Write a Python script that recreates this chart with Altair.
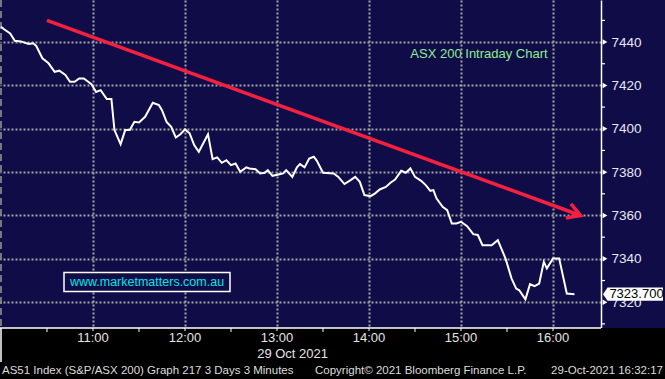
import altair as alt
import pandas as pd

# ---------------- data ----------------
times = ["10:00","10:02","10:06","10:09","10:13","10:18","10:21","10:23","10:27","10:31",
         "10:35","10:38","10:42","10:45","10:48","10:51","10:54","10:59","11:02","11:05",
         "11:09","11:12","11:14","11:18","11:21","11:24","11:27","11:30","11:34","11:39",
         "11:43","11:45","11:48","11:51","11:54","11:57","12:00","12:03","12:06","12:09",
         "12:15","12:18","12:21","12:24","12:27","12:30","12:33","12:36","12:40","12:42",
         "12:46","12:49","12:52","12:54","12:57","13:01","13:04","13:06","13:10","13:13",
         "13:15","13:18","13:21","13:24","13:26","13:30","13:37","13:40","13:44","13:48",
         "13:51","13:54","13:57","14:01","14:04","14:07","14:11","14:14","14:17","14:21",
         "14:24","14:27","14:30","14:34","14:37","14:40","14:42","14:44","14:48","14:51",
         "14:54","14:57","15:00","15:04","15:08","15:11","15:14","15:20","15:24","15:29",
         "15:33","15:36","15:38","15:42","15:45","15:48","15:51","15:54","15:56","16:00",
         "16:04","16:09","16:14"]
values = [7447.1,7445.9,7444.0,7440.6,7440.3,7439.1,7439.4,7438.2,7432.5,7430.2,
          7426.3,7426.8,7424.8,7421.7,7421.7,7423.2,7423.2,7420.6,7417.0,7417.8,
          7413.7,7413.7,7399.4,7392.9,7399.4,7399.4,7403.2,7402.9,7405.5,7412.0,
          7410.9,7408.6,7403.2,7400.9,7396.0,7397.5,7399.7,7397.9,7392.5,7389.4,
          7397.5,7386.0,7386.8,7384.3,7385.5,7383.2,7384.0,7380.2,7382.2,7381.7,
          7381.3,7379.4,7379.7,7380.9,7378.3,7378.9,7379.4,7380.9,7377.8,7382.2,
          7383.7,7382.2,7386.3,7387.1,7385.2,7379.7,7379.4,7377.8,7374.5,7376.3,
          7377.8,7375.5,7369.4,7368.9,7370.2,7372.0,7373.2,7375.1,7376.6,7380.6,
          7379.7,7381.7,7377.8,7376.0,7374.0,7371.4,7371.7,7367.9,7364.0,7362.5,
          7356.3,7356.3,7357.1,7355.1,7351.4,7351.0,7346.3,7346.3,7348.6,7340.2,
          7330.9,7326.3,7325.5,7321.3,7328.3,7327.4,7328.6,7338.6,7335.6,7340.2,
          7340.2,7324.0,7323.7]

hour_ticks = ["11:00", "12:00", "13:00", "14:00", "15:00", "16:00"]
half_hour_ticks = ["10:30", "11:30", "12:30", "13:30", "14:30", "15:30"]
session_start = ["10:00"]
y_major = [7320, 7340, 7360, 7380, 7400, 7420, 7440]
y_minor = [7310, 7330, 7350, 7370, 7390, 7410, 7430, 7450]
trend_times = ["10:30", "16:18"]
trend_values = [7450, 7360]
last_value = [7323.7]
last_label = ["7323.700"]
date_label = ["29 Oct 2021"]
chart_label = ["ASX 200 Intraday Chart"]
site_label = ["www.marketmatters.com.au"]
footer_left = ["AS51 Index (S&P/ASX 200) Graph 217 3 Days 3 Minutes"]
footer_mid = ["Copyright\u00a9 2021 Bloomberg Finance L.P."]
footer_right = ["29-Oct-2021 16:32:17"]

# ---------------- styling ----------------
NAVY = "#0f0c48"
RED = "#f5203f"
GRID = "#a4a4a4"
FONT = "Liberation Sans"
W, H = 601, 328

DAY = "2021-10-29T"
def ts(t):
    return DAY + t + ":00"

def dt(h, m=0, s=0):
    return alt.DateTime(year=2021, month=10, date=29, hours=h, minutes=m, seconds=s)

x_scale = alt.Scale(domain=[dt(9, 59, 21), dt(16, 31, 18)])
y_scale = alt.Scale(domain=[7308.1, 7459.4], nice=False, zero=False)

x_axis = alt.Axis(values=[dt(h) for h in range(11, 17)], grid=True, labels=False,
                  ticks=False, domain=False, title=None, gridDash=[2, 2],
                  gridColor=GRID, gridWidth=2)
y_axis = alt.Axis(orient="right", values=y_major, format="d", grid=True, ticks=False,
                  tickSize=0, labelPadding=10, domainColor="white", domainWidth=1.5,
                  labelColor="#e8e8f4", labelFontSize=13.5, labelFont=FONT, title=None,
                  gridDash=[2, 2], gridColor=GRID, gridWidth=2)

def X(f="t"):
    return alt.X(f + ":T", scale=x_scale, axis=x_axis)

def Y(f="v"):
    return alt.Y(f + ":Q", scale=y_scale, axis=y_axis)

one = pd.DataFrame({"a": [0]})
price_df = pd.DataFrame({"t": [ts(t) for t in times], "v": values})

# bottom black strip
strip = alt.Chart(one).mark_rect(color="black").encode(
    x=alt.value(0), x2=alt.value(665), y=alt.value(H), y2=alt.value(379))

start_df = pd.DataFrame({"t": [ts(t) for t in session_start]})
start_rule = alt.Chart(start_df).mark_rule(color="#9a9a9a", strokeDash=[7, 4], strokeWidth=1.5).encode(
    x=X(), y=alt.value(0), y2=alt.value(H))
start_ext = alt.Chart(start_df).mark_rule(color="white", strokeWidth=1.5).encode(
    x=X(), y=alt.value(H), y2=alt.value(362))

x_domain = alt.Chart(one).mark_rule(color="white", strokeWidth=1.5).encode(
    x=alt.value(0), x2=alt.value(W), y=alt.value(H))

hour_df = pd.DataFrame({"t": [ts(t) for t in hour_ticks], "label": hour_ticks})
hour_tick_marks = alt.Chart(hour_df).mark_rule(color="white").encode(
    x=X(), y=alt.value(H), y2=alt.value(331))
half_df = pd.DataFrame({"t": [ts(t) for t in half_hour_ticks]})
half_tick_marks = alt.Chart(half_df).mark_rule(color="white").encode(
    x=X(), y=alt.value(H), y2=alt.value(332))
hour_labels = alt.Chart(hour_df).mark_text(color="#e4e4e4", fontSize=13, font=FONT,
                                           baseline="middle").encode(
    x=X(), y=alt.value(338), text="label:N")

date_text = alt.Chart(pd.DataFrame({"label": date_label})).mark_text(
    color="#e4e4e4", fontSize=13, font=FONT, align="right", baseline="middle").encode(
    x=alt.value(328), y=alt.value(354), text="label:N")

def footer(lbl, xpos, align):
    return alt.Chart(pd.DataFrame({"label": lbl})).mark_text(
        color="#dcdcdc", fontSize=11.5, font=FONT, align=align, baseline="middle").encode(
        x=alt.value(xpos), y=alt.value(371), text="label:N")

f1 = footer(footer_left, 2, "left")
f2 = footer(footer_mid, 315, "left")
f3 = footer(footer_right, 663, "right")

minor_df = pd.DataFrame({"v": y_minor})
minor_ticks = alt.Chart(minor_df).mark_rule(color="white", strokeWidth=1.2).encode(
    y=Y(), x=alt.value(W), x2=alt.value(605))
major_df = pd.DataFrame({"v": y_major})
major_ticks = alt.Chart(major_df).mark_point(shape="triangle-right", filled=True,
                                             color="white", size=30, opacity=1).encode(
    y=Y(), x=alt.value(605))

trend_df = pd.DataFrame({"t": [ts(t) for t in trend_times], "v": trend_values})
trend = alt.Chart(trend_df).mark_line(color=RED, strokeWidth=3.5).encode(x=X(), y=Y())
head = alt.Chart(trend_df.tail(1)).mark_point(
    shape="M-1,-0.577L0,0L-1,0.577", filled=False, stroke=RED, strokeWidth=3.5,
    size=676, angle=20, opacity=1, strokeJoin="miter").encode(x=X(), y=Y())

price = alt.Chart(price_df).mark_line(color="white", strokeWidth=2).encode(x=X(), y=Y())

green = alt.Chart(pd.DataFrame({"label": chart_label})).mark_text(
    color="#90ee90", fontSize=13, font=FONT, baseline="middle").encode(
    x=alt.value(479), y=alt.value(54), text="label:N")

site_box = alt.Chart(one).mark_rect(fill=NAVY, stroke="white", strokeWidth=1.5).encode(
    x=alt.value(64), x2=alt.value(230), y=alt.value(272.5), y2=alt.value(291.5))
site_text = alt.Chart(pd.DataFrame({"label": site_label})).mark_text(
    color="#00e6e6", fontSize=12.5, font=FONT, baseline="middle").encode(
    x=alt.value(147), y=alt.value(282), text="label:N")

tag_df = pd.DataFrame({"v": last_value, "label": last_label})
tag = alt.Chart(tag_df).mark_point(
    shape="M-1,0L-0.85,-0.22L1,-0.22L1,0.22L-0.85,0.22Z", filled=True, color="white",
    size=3600, opacity=1).encode(x=alt.value(633), y=Y())
tag_text = alt.Chart(tag_df).mark_text(color="black", fontSize=13, font=FONT,
                                       baseline="middle").encode(
    x=alt.value(636.5), y=Y(), text="label:N")

chart = alt.layer(
    strip, start_rule, start_ext, x_domain, hour_tick_marks, half_tick_marks, hour_labels,
    date_text, f1, f2, f3, minor_ticks, major_ticks, trend, head, price, green,
    site_box, site_text, tag, tag_text
).properties(
    width=W, height=H,
    autosize=alt.AutoSizeParams(type="none"),
    padding={"left": 0, "top": 0, "right": 64, "bottom": 51},
    background=NAVY,
).configure_view(stroke=None, fill=NAVY)

chart.save("out.html", embed_options={"renderer": "svg", "actions": False})
